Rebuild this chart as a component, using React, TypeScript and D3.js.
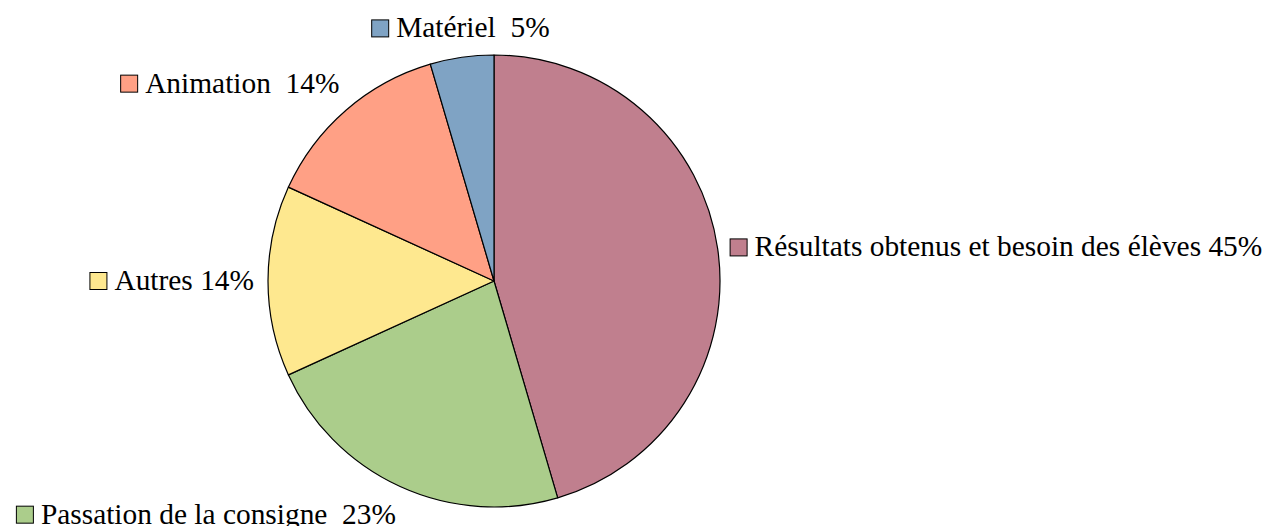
import React, { useEffect, useRef } from 'react';
import * as d3 from 'd3';

// responses per category (10/5/3/3/1 of 22)
const categories = [
  'Résultats obtenus et besoin des élèves',
  'Passation de la consigne',
  'Autres',
  'Animation',
  'Matériel',
];
const counts = [10, 5, 3, 3, 1];
const percentLabels = ['45%', '23%', '14%', '14%', '5%'];
const separators = [' ', '  ', ' ', '  ', '  '];
const colors = ['#C07F8E', '#ABCD8B', '#FEE88F', '#FFA085', '#7FA3C4'];

export default function App() {
  const ref = useRef<SVGSVGElement | null>(null);

  useEffect(() => {
    const svgEl = ref.current;
    if (!svgEl) return;
    const svg = d3.select(svgEl);
    svg.selectAll('*').remove();

    const cx = 494;
    const cy = 281;
    const radius = 226;
    const labelRadius = 236;
    const fontSize = 29.4;
    const swatch = 17;
    const gap = 8;

    const data = categories.map((name, i) => ({
      name,
      value: counts[i],
      label: name + separators[i] + percentLabels[i],
      color: colors[i],
    }));

    const pie = d3
      .pie<typeof data[number]>()
      .sort(null)
      .value(d => d.value);
    const arcs = pie(data);
    const arc = d3.arc<d3.PieArcDatum<typeof data[number]>>().innerRadius(0).outerRadius(radius);

    const g = svg.append('g').attr('transform', `translate(${cx},${cy})`);
    g.selectAll('path')
      .data(arcs)
      .join('path')
      .attr('d', arc)
      .attr('fill', d => d.data.color)
      .attr('stroke', '#000')
      .attr('stroke-width', 1.2)
      .attr('stroke-linejoin', 'round');

    // small manual nudges where the original layout moved a label
    const nudge: Record<string, [number, number]> = {
      'Passation de la consigne': [0, 6],
      'Résultats obtenus et besoin des élèves': [2, 0],
      Autres: [-4, 0],
    };

    arcs.forEach(a => {
      const mid = (a.startAngle + a.endAngle) / 2;
      const s = Math.sin(mid);
      const c = -Math.cos(mid);
      const px = cx + labelRadius * s;
      const py = cy + labelRadius * c;

      const lg = svg.append('g');
      const text = lg
        .append('text')
        .attr('font-family', '"Liberation Serif", "Times New Roman", serif')
        .attr('font-size', fontSize)
        .attr('fill', '#000')
        .style('white-space', 'pre')
        .text(a.data.label);
      const tw = (text.node() as SVGTextElement).getComputedTextLength();
      const w = swatch + gap + tw;

      let left = px - w / 2;
      if (s > 0.3) left = px;
      else if (s < -0.3) left = px - w;

      let baseline = py + 9;
      if (c < -0.3) baseline = py - 10;
      else if (c > 0.3) baseline = py + 22;

      const [dx, dy] = nudge[a.data.name] ?? [0, 0];
      left += dx;
      baseline += dy;
      // keep labels inside the chart area
      left = Math.max(left, 2);

      lg.append('rect')
        .attr('x', left + 0.5)
        .attr('y', baseline - swatch - 0.5)
        .attr('width', swatch)
        .attr('height', swatch)
        .attr('fill', a.data.color)
        .attr('stroke', '#000')
        .attr('stroke-width', 1);
      text.attr('x', left + swatch + gap).attr('y', baseline);
    });

    return () => {
      svg.selectAll('*').remove();
    };
  }, []);

  return (
    <svg
      ref={ref}
      width={1266}
      height={526}
      style={{ position: 'fixed', left: 0, top: 0, background: '#fff' }}
    />
  );
}
